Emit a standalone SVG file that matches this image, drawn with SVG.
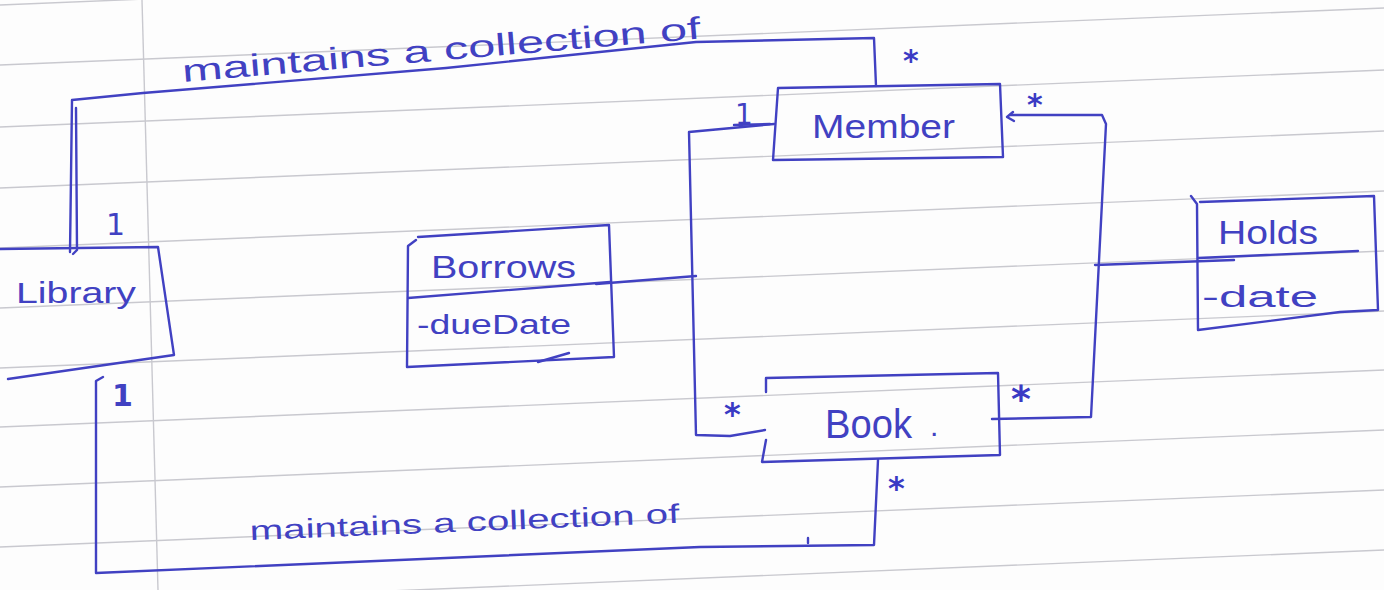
<svg xmlns="http://www.w3.org/2000/svg" width="1384" height="590" viewBox="0 0 1384 590">
  <style>
    .rule { stroke: #c9c9cf; stroke-width: 1.4; fill: none; }
    .ink { stroke: #4141c2; stroke-width: 2.4; fill: none; stroke-linecap: round; stroke-linejoin: round; }
    .txt { fill: #4141c2; font-family: "Liberation Sans", "DejaVu Sans", sans-serif; }
    .mult { fill: #4141c2; font-family: "DejaVu Sans", sans-serif; }
    .star { fill: #3a3ac4; font-family: "DejaVu Sans", sans-serif; font-weight: bold; }
  </style>

  <!-- ruled notebook paper -->
  <g id="paper">
    <rect x="0" y="0" width="1384" height="590" fill="#fdfdfd"/>
    <line class="rule" x1="0" y1="5" x2="1384" y2="-52"/>
    <line class="rule" x1="0" y1="65" x2="1384" y2="8"/>
    <line class="rule" x1="0" y1="127" x2="1384" y2="70"/>
    <line class="rule" x1="0" y1="188" x2="1384" y2="131"/>
    <line class="rule" x1="0" y1="248" x2="1384" y2="191"/>
    <line class="rule" x1="0" y1="308" x2="1384" y2="251"/>
    <line class="rule" x1="0" y1="368" x2="1384" y2="311"/>
    <line class="rule" x1="0" y1="427" x2="1384" y2="370"/>
    <line class="rule" x1="0" y1="487" x2="1384" y2="430"/>
    <line class="rule" x1="0" y1="547" x2="1384" y2="490"/>
    <line class="rule" x1="0" y1="607" x2="1384" y2="550"/>
    <line class="rule" x1="142" y1="0" x2="158" y2="590"/>
  </g>

  <!-- associations -->
  <g id="connectors">
    <!-- Library to Member -->
    <path class="ink" d="M70,252 L72,100 L143,93 L446,68 L696,42 L874,38 L876,86"/>
    <path class="ink" d="M76,108 L77,250 L73,254"/>
    <!-- Library to Book -->
    <path class="ink" d="M103,377 L96,381 L96,573 L700,547 L874,545 L878,460"/>
    <path class="ink" d="M808,538 L808,543"/>
    <!-- Member to Book (left loop) -->
    <path class="ink" d="M774,124 L689,132 L696,435 L730,436 L765,430"/>
    <!-- Member to Book (right loop) -->
    <path class="ink" d="M1013,112 L1007,117 L1014,121"/>
    <path class="ink" d="M1010,115 L1102,115 L1106,124 L1091,417 L992,419"/>
    <!-- association class links -->
    <path class="ink" d="M596,284 L696,276"/>
    <path class="ink" d="M1095,265 L1234,260"/>

    <!-- association names -->
    <text class="txt" font-size="31" x="183" y="82" textLength="520" lengthAdjust="spacingAndGlyphs" transform="rotate(-4.8 183 82)">maintains a collection of</text>
    <text class="txt" font-size="27" x="250" y="540" textLength="430" lengthAdjust="spacingAndGlyphs" transform="rotate(-2.3 250 540)">maintains a collection of</text>

    <!-- multiplicities -->
    <text class="mult" font-size="30" x="106" y="235">1</text>
    <text class="mult" font-size="30" x="112" y="406" font-weight="bold">1</text>
    <text class="mult" font-size="28" x="735" y="124">1</text>
    <path class="ink" d="M734,125 L770,124"/>
    <text class="star" font-size="30" x="903" y="71">*</text>
    <text class="star" font-size="30" x="1027" y="115">*</text>
    <text class="star" font-size="32" x="724" y="425">*</text>
    <text class="star" font-size="38" x="1011" y="412">*</text>
    <text class="star" font-size="32" x="888" y="499">*</text>
  </g>

  <g id="library">
    <path class="ink" d="M0,249 L158,247 L174,355 L8,379"/>
    <text class="txt" font-size="30" x="16" y="303" textLength="120" lengthAdjust="spacingAndGlyphs">Library</text>
  </g>

  <g id="member">
    <path class="ink" d="M778,88 L1000,84 L1003,157 L773,160 Z"/>
    <text class="txt" font-size="34" x="812" y="138" textLength="143" lengthAdjust="spacingAndGlyphs">Member</text>
  </g>

  <g id="book">
    <path class="ink" d="M766,392 L766,378 L998,373 L1000,455 L762,462 L766,440"/>
    <text class="txt" font-size="40" x="825" y="438" textLength="87" lengthAdjust="spacingAndGlyphs">Book</text>
    <text class="txt" font-size="30" x="930" y="436">.</text>
  </g>

  <g id="borrows">
    <path class="ink" d="M416,240 L408,246 L407,367 L614,357 L609,225 L418,237"/>
    <path class="ink" d="M408,298 L610,282"/>
    <text class="txt" font-size="32" x="431" y="278" textLength="145" lengthAdjust="spacingAndGlyphs">Borrows</text>
    <text class="txt" font-size="27" x="417" y="334" textLength="154" lengthAdjust="spacingAndGlyphs">-dueDate</text>
    <path class="ink" d="M538,362 L569,353"/>
  </g>

  <g id="holds">
    <path class="ink" d="M1191,196 L1197,204 L1198,330 L1340,312 L1378,310 L1374,196 L1200,202"/>
    <path class="ink" d="M1198,258 L1358,251"/>
    <text class="txt" font-size="34" x="1218" y="244" textLength="100" lengthAdjust="spacingAndGlyphs">Holds</text>
    <text class="txt" font-size="30" x="1202" y="307" textLength="116" lengthAdjust="spacingAndGlyphs">-date</text>
  </g>
</svg>
